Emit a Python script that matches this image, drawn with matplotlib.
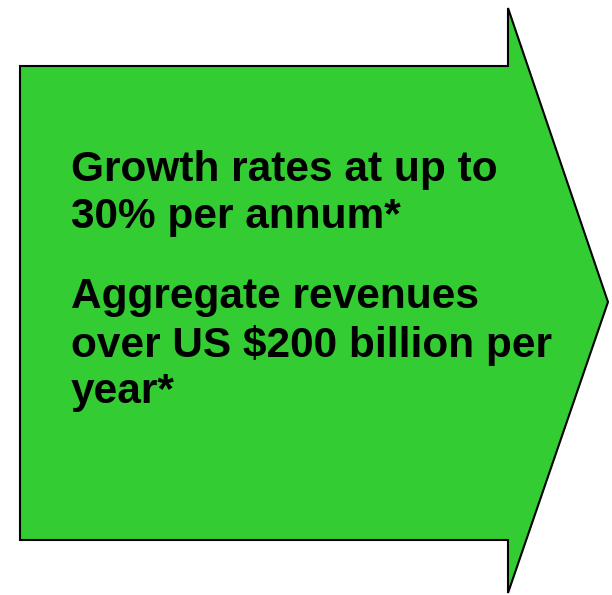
import matplotlib
matplotlib.use('Agg')
import matplotlib.pyplot as plt
from matplotlib.patches import Polygon

plt.rcParams['font.family'] = ['Liberation Sans', 'DejaVu Sans']

# arrow outline (pixel coords, y down)
arrow_x = [20, 508, 508, 608, 508, 508, 20]
arrow_y = [66, 66, 8, 302, 593, 540, 540]

lines = ['Growth rates at up to', '30% per annum*',
         'Aggregate revenues', 'over US $200 billion per', 'year*']
line_y = [170, 217, 297, 345, 392]

fig = plt.figure(figsize=(6.12, 5.95), dpi=100)
ax = fig.add_axes([0, 0, 1, 1])
ax.set_xlim(0, 612)
ax.set_ylim(595, 0)
ax.axis('off')

ax.add_patch(Polygon(list(zip(arrow_x, arrow_y)), closed=True,
                     facecolor='#33CC33', edgecolor='black', linewidth=1.5,
                     joinstyle='miter'))

for txt, y in zip(lines, line_y):
    ax.text(71, y, txt, fontsize=30.5, fontweight='bold', color='black',
            ha='left', va='center')

fig.savefig('out.png', dpi=100)
